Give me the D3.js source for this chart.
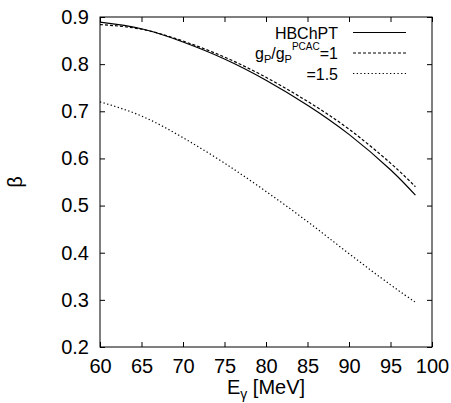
<!DOCTYPE html>
<html><head><meta charset="utf-8">
<script src="https://cdn.jsdelivr.net/npm/d3@7"></script>
<style>body{margin:0;background:#fff}svg{display:block;font-family:"Liberation Sans",Arial,sans-serif}</style>
</head><body><svg id="c" width="451" height="403"></svg>
<script>
const energies = [60, 65, 70, 75, 80, 85, 90, 95, 98];
const hbchpt   = [0.889, 0.875, 0.847, 0.811, 0.766, 0.713, 0.651, 0.576, 0.522];
const gpRatio1 = [0.884, 0.874, 0.849, 0.815, 0.772, 0.721, 0.662, 0.590, 0.540];
const gpRatio15= [0.720, 0.690, 0.644, 0.590, 0.530, 0.466, 0.398, 0.332, 0.295];
const xTicks = [60, 65, 70, 75, 80, 85, 90, 95, 100];
const yTicks = [0.2, 0.3, 0.4, 0.5, 0.6, 0.7, 0.8, 0.9];

const svg = d3.select("#c");
const L = 100, R = 432, T = 17, B = 347;
const x = d3.scaleLinear().domain([60, 100]).range([L, R]);
const y = d3.scaleLinear().domain([0.2, 0.9]).range([B, T]);

// frame
svg.append("rect").attr("x", L).attr("y", T).attr("width", R - L).attr("height", B - T)
  .attr("fill", "none").attr("stroke", "#000").attr("stroke-width", 1);

// axes with inward ticks
const tl = 5;
svg.append("g").attr("transform", `translate(0,${B})`)
  .call(d3.axisBottom(x).tickValues(xTicks).tickSize(-tl).tickPadding(tl + 7).tickFormat(d3.format("d")))
  .call(g => g.select(".domain").remove());
svg.append("g").attr("transform", `translate(0,${T})`)
  .call(d3.axisTop(x).tickValues(xTicks).tickSize(-tl).tickFormat(""))
  .call(g => g.select(".domain").remove());
svg.append("g").attr("transform", `translate(${L},0)`)
  .call(d3.axisLeft(y).tickValues(yTicks).tickSize(-tl).tickPadding(tl + 6).tickFormat(d3.format(".1f")))
  .call(g => g.select(".domain").remove());
svg.append("g").attr("transform", `translate(${R},0)`)
  .call(d3.axisRight(y).tickValues(yTicks).tickSize(-tl).tickFormat(""))
  .call(g => g.select(".domain").remove());
svg.selectAll(".tick text").attr("font-size", 20).attr("font-family", "Liberation Sans, Arial, sans-serif").attr("fill", "#000");
svg.selectAll(".tick line").attr("stroke", "#000");

// axis titles
const xt = svg.append("text").attr("x", 266).attr("y", 394).attr("text-anchor", "middle")
  .attr("font-size", 20).attr("fill", "#000");
xt.append("tspan").text("E");
xt.append("tspan").attr("font-size", 14).attr("dy", 5).text("γ");
xt.append("tspan").attr("dy", -5).text(" [MeV]");

svg.append("text").attr("transform", "translate(22,182) rotate(-90)").attr("text-anchor", "middle")
  .attr("font-size", 20).attr("fill", "#000").text("β");

// curves
const line = d3.line().x((d, i) => x(energies[i])).y(d => y(d)).curve(d3.curveNatural);
const series = [
  {vals: hbchpt, dash: null},
  {vals: gpRatio1, dash: "3,2"},
  {vals: gpRatio15, dash: "1.3,2.4"}
];
series.forEach(s => {
  svg.append("path").attr("d", line(s.vals)).attr("fill", "none").attr("stroke", "#000")
    .attr("stroke-width", 1.2).attr("stroke-dasharray", s.dash);
});

// legend
const lx0 = 353, lx1 = 406, tx = 338;
const rows = [32.5, 53, 73.5];
rows.forEach((ry, i) => {
  svg.append("line").attr("x1", lx0).attr("x2", lx1).attr("y1", ry).attr("y2", ry)
    .attr("stroke", "#000").attr("stroke-width", 1.2).attr("stroke-dasharray", series[i].dash);
});
svg.append("text").attr("x", tx).attr("y", rows[0] + 6).attr("text-anchor", "end")
  .attr("font-size", 16).attr("fill", "#000").text("HBChPT");
const t2 = svg.append("text").attr("x", tx).attr("y", rows[1] + 6).attr("text-anchor", "end")
  .attr("font-size", 16).attr("fill", "#000");
t2.append("tspan").text("g");
t2.append("tspan").attr("font-size", 11).attr("dy", 4).text("P");
t2.append("tspan").attr("dy", -4).text("/g");
t2.append("tspan").attr("font-size", 11).attr("dy", 4).text("P");
t2.append("tspan").attr("font-size", 10).attr("dy", -13).text("PCAC");
t2.append("tspan").attr("dy", 9).text("=1");
svg.append("text").attr("x", tx).attr("y", rows[2] + 6).attr("text-anchor", "end")
  .attr("font-size", 16).attr("fill", "#000").text("=1.5");
</script></body></html>
